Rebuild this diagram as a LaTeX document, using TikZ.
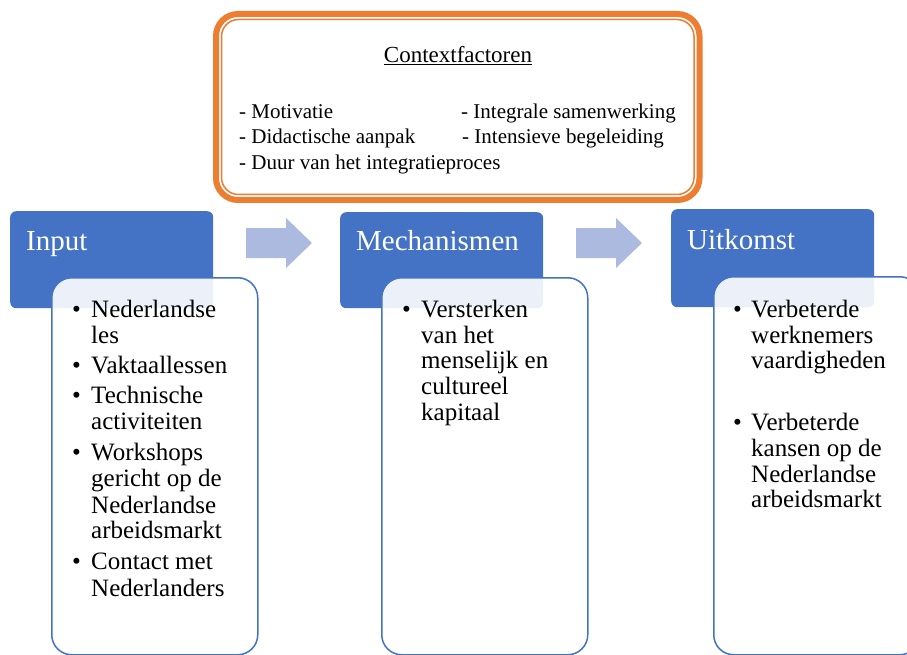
\documentclass[tikz,border=0pt]{standalone}
\usepackage{fontspec}
\setmainfont{Liberation Serif}
\definecolor{hdrblue}{RGB}{68,114,196}
\definecolor{ctxorange}{RGB}{237,125,49}
\definecolor{arrowblue}{RGB}{171,186,222}
\tikzset{
  hdr/.style={fill=hdrblue, draw=none, rounded corners=6pt, anchor=north west, inner sep=0pt},
  body/.style={fill=white, fill opacity=0.9, draw=hdrblue, line width=1.5pt, rounded corners=20pt, anchor=north west, inner sep=0pt},
  hdrtxt/.style={anchor=base west, inner sep=0pt, text=white, font=\fontsize{29}{32}\selectfont},
  ln/.style={anchor=base west, inner sep=0pt, font=\fontsize{25}{26}\selectfont},
  ctx/.style={anchor=base west, inner sep=0pt, font=\fontsize{21}{24}\selectfont},
  blockarrow/.style={fill=arrowblue, draw=none}
}
\begin{document}
\begin{tikzpicture}[x=1pt,y=-1pt]
\useasboundingbox (0,0) rectangle (907,655);
\clip (0,0) rectangle (907,655);

% Context box
\draw[ctxorange, line width=6pt, fill=white, rounded corners=22pt] (216,14) rectangle (699.5,200);
\draw[ctxorange, line width=1.5pt, rounded corners=17pt] (221.5,19.5) rectangle (694,194.5);
\node[anchor=base, inner sep=0pt, font=\fontsize{23}{26}\selectfont] (ctitle) at (458,63) {\underline{Contextfactoren}};
\node[ctx] (c1) at (239,119) {- Motivatie};
\node[ctx] (c2) at (461,119) {- Integrale samenwerking};
\node[ctx] (c3) at (239,144) {- Didactische aanpak};
\node[ctx] (c4) at (462,144) {- Intensieve begeleiding};
\node[ctx] (c5) at (239,170) {- Duur van het integratieproces};

% Headers
\node[hdr, minimum width=203pt, minimum height=97pt] (hinput) at (10,211) {};
\node[hdr, minimum width=203pt, minimum height=96pt] (hmech) at (340,212) {};
\node[hdr, minimum width=203pt, minimum height=98pt] (huit) at (671,209) {};
\node[hdrtxt] (tinput) at (26,250) {Input};
\node[hdrtxt] (tmech) at (356,250) {Mechanismen};
\node[hdrtxt] (tuit) at (687,249) {Uitkomst};

% Block arrows
\fill[blockarrow] (246,228) -- (286,228) -- (286,218) -- (312,243) -- (286,268) -- (286,258) -- (246,258) -- cycle;
\fill[blockarrow] (576,228) -- (616,228) -- (616,218) -- (642,243) -- (616,268) -- (616,258) -- (576,258) -- cycle;

% Bodies
\node[body, minimum width=206pt, minimum height=377pt] (binput) at (51,277) {};
\node[body, minimum width=206pt, minimum height=377pt] (bmech) at (381,277) {};
\node[body, minimum width=206pt, minimum height=378pt] (buit) at (713,276) {};

% Input items
\node[ln] (ib1) at (72,317) {•};
\node[ln] (ib2) at (72,373) {•};
\node[ln] (ib3) at (72,403) {•};
\node[ln] (ib4) at (72,460) {•};
\node[ln] (ib5) at (72,569) {•};
\node[ln] (i1) at (91,317) {Nederlandse};
\node[ln] (i2) at (91,343) {les};
\node[ln] (i3) at (91,373) {Vaktaallessen};
\node[ln] (i4) at (91,403) {Technische};
\node[ln] (i5) at (91,429) {activiteiten};
\node[ln] (i6) at (91,460) {Workshops};
\node[ln] (i7) at (91,486) {gericht op de};
\node[ln] (i8) at (91,513) {Nederlandse};
\node[ln] (i9) at (91,538) {arbeidsmarkt};
\node[ln] (i10) at (91,569) {Contact met};
\node[ln] (i11) at (91,596) {Nederlanders};

% Mechanismen items
\node[ln] (mb1) at (402,317) {•};
\node[ln] (m1) at (421,317) {Versterken};
\node[ln] (m2) at (421,343) {van het};
\node[ln] (m3) at (421,368) {menselijk en};
\node[ln] (m4) at (421,394) {cultureel};
\node[ln] (m5) at (421,420) {kapitaal};

% Uitkomst items
\node[ln] (ub1) at (733,317) {•};
\node[ln] (ub2) at (733,430) {•};
\node[ln] (u1) at (751,317) {Verbeterde};
\node[ln] (u2) at (751,343) {werknemers};
\node[ln] (u3) at (751,368) {vaardigheden};
\node[ln] (u4) at (751,430) {Verbeterde};
\node[ln] (u5) at (751,456) {kansen op de};
\node[ln] (u6) at (751,482) {Nederlandse};
\node[ln] (u7) at (751,507) {arbeidsmarkt};
\end{tikzpicture}
\end{document}
